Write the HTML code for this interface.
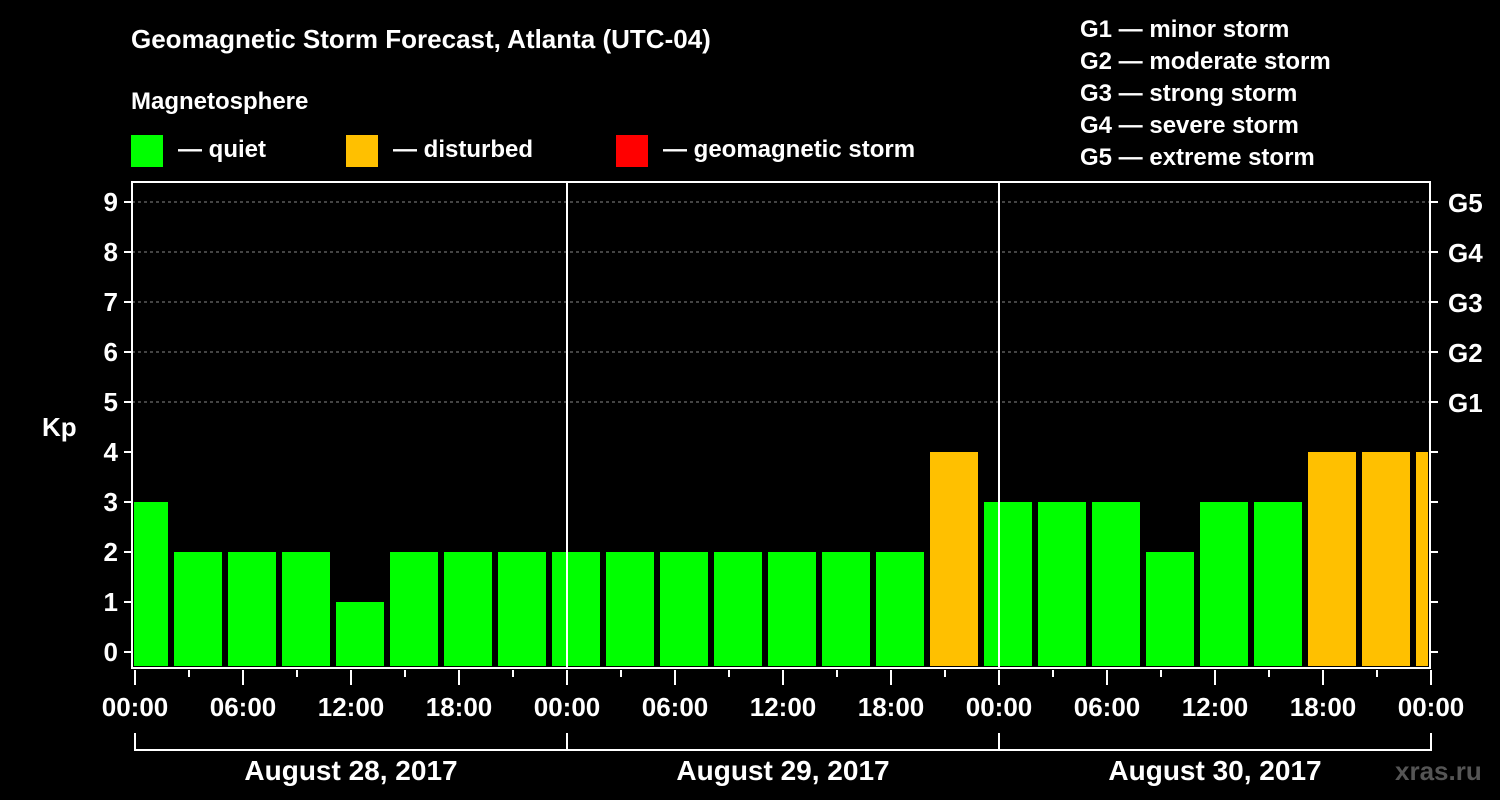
<!DOCTYPE html>
<html><head><meta charset="utf-8"><style>
body{margin:0;background:#000;}
svg{display:block;font-family:"Liberation Sans",Arial,sans-serif;font-weight:bold;}
</style></head><body>
<svg id="c" width="1500" height="800" viewBox="0 0 1500 800">
<rect width="1500" height="800" fill="#000"/>
<text x="131" y="48" fill="#fff" font-size="26">Geomagnetic Storm Forecast, Atlanta (UTC-04)</text>
<text x="131" y="109" fill="#fff" font-size="24">Magnetosphere</text>
<g><rect x="131" y="135" width="32" height="32" fill="#00ff00"/><text x="178" y="157" fill="#fff" font-size="24">— quiet</text></g>
<g><rect x="346" y="135" width="32" height="32" fill="#ffc000"/><text x="393" y="157" fill="#fff" font-size="24">— disturbed</text></g>
<g><rect x="616" y="135" width="32" height="32" fill="#ff0000"/><text x="663" y="157" fill="#fff" font-size="24">— geomagnetic storm</text></g>
<g fill="#fff" font-size="24">
<text x="1080" y="37">G1 — minor storm</text>
<text x="1080" y="69">G2 — moderate storm</text>
<text x="1080" y="101">G3 — strong storm</text>
<text x="1080" y="133">G4 — severe storm</text>
<text x="1080" y="165">G5 — extreme storm</text>
</g>
<text x="42" y="436" fill="#fff" font-size="26">Kp</text>
<text x="1395" y="780" fill="#555" font-size="26">xras.ru</text>
<g id="plot"></g>
</svg>
<script>
const kpValues=[3,2,2,2,1,2,2,2,2,2,2,2,2,2,2,4,3,3,3,2,3,3,4,4,4];
const yTicks=[0,1,2,3,4,5,6,7,8,9];
const gLabels=["G1","G2","G3","G4","G5"];
const gLevels=[5,6,7,8,9];
const timeLabels=["00:00","06:00","12:00","18:00"];
const dayLabels=["August 28, 2017","August 29, 2017","August 30, 2017"];
const X0=135,HPX=18,L=132,R=1430,T=182,B=668;
const x=h=>X0+HPX*h;
const y=v=>652-50*v;
const ns="http://www.w3.org/2000/svg";
const g=document.getElementById('plot');
function mk(t,a){const e=document.createElementNS(ns,t);for(const k in a)e.setAttribute(k,a[k]);g.appendChild(e);return e;}
// grid
yTicks.forEach(v=>{if(v>=5){const e=mk('line',{x1:L,x2:R,y1:y(v),y2:y(v),stroke:'#888','stroke-dasharray':'3,3','stroke-width':1});

}});
// bars
const clip=mk('clipPath',{id:'pc'});const cr=document.createElementNS(ns,'rect');cr.setAttribute('x',L+2);cr.setAttribute('y',T);cr.setAttribute('width',R-L-4);cr.setAttribute('height',B-T);clip.appendChild(cr);
kpValues.forEach((v,k)=>{const c=0.5+3*k;const b=mk('rect',{x:x(c)-24,y:y(v),width:48,height:B-2-y(v),fill:v>=5?'#ff0000':(v>=4?'#ffc000':'#00ff00'),'clip-path':'url(#pc)'});

});
// day separators
[1,2].forEach(d=>{const e=mk('line',{x1:x(24*d),x2:x(24*d),y1:T,y2:B,stroke:'#fff','stroke-width':2});

});
// frame
const f=mk('rect',{x:L,y:T,width:R-L,height:B-T,fill:'none',stroke:'#fff','stroke-width':2});


// y ticks
yTicks.forEach(v=>{mk('line',{x1:L-8,x2:L,y1:y(v),y2:y(v),stroke:'#fff','stroke-width':2});mk('line',{x1:R,x2:R+8,y1:y(v),y2:y(v),stroke:'#fff','stroke-width':2});
const t=mk('text',{x:L-14,y:y(v)+9,fill:'#fff','font-size':26,'text-anchor':'end'});t.textContent=v;

});
gLabels.forEach((s,i)=>{const t=mk('text',{x:R+18,y:y(gLevels[i])+10,fill:'#fff','font-size':26});t.textContent=s;

});
// x ticks
for(let h=0;h<=72;h+=3){const maj=h%6===0;mk('line',{x1:x(h),x2:x(h),y1:B+2,y2:B+(maj?17:9),stroke:'#fff','stroke-width':2});
if(maj){const t=mk('text',{x:x(h),y:716,fill:'#fff','font-size':26,'text-anchor':'middle'});t.textContent=timeLabels[(h/6)%4];

}}
// day brackets
dayLabels.forEach((s,d)=>{const a=x(24*d),b=x(24*(d+1));mk('path',{d:`M${a} 733V750H${b}V733`,fill:'none',stroke:'#fff','stroke-width':2});
const t=mk('text',{x:(a+b)/2,y:780,fill:'#fff','font-size':28,'text-anchor':'middle'});t.textContent=s;

});
</script>
</body></html>
